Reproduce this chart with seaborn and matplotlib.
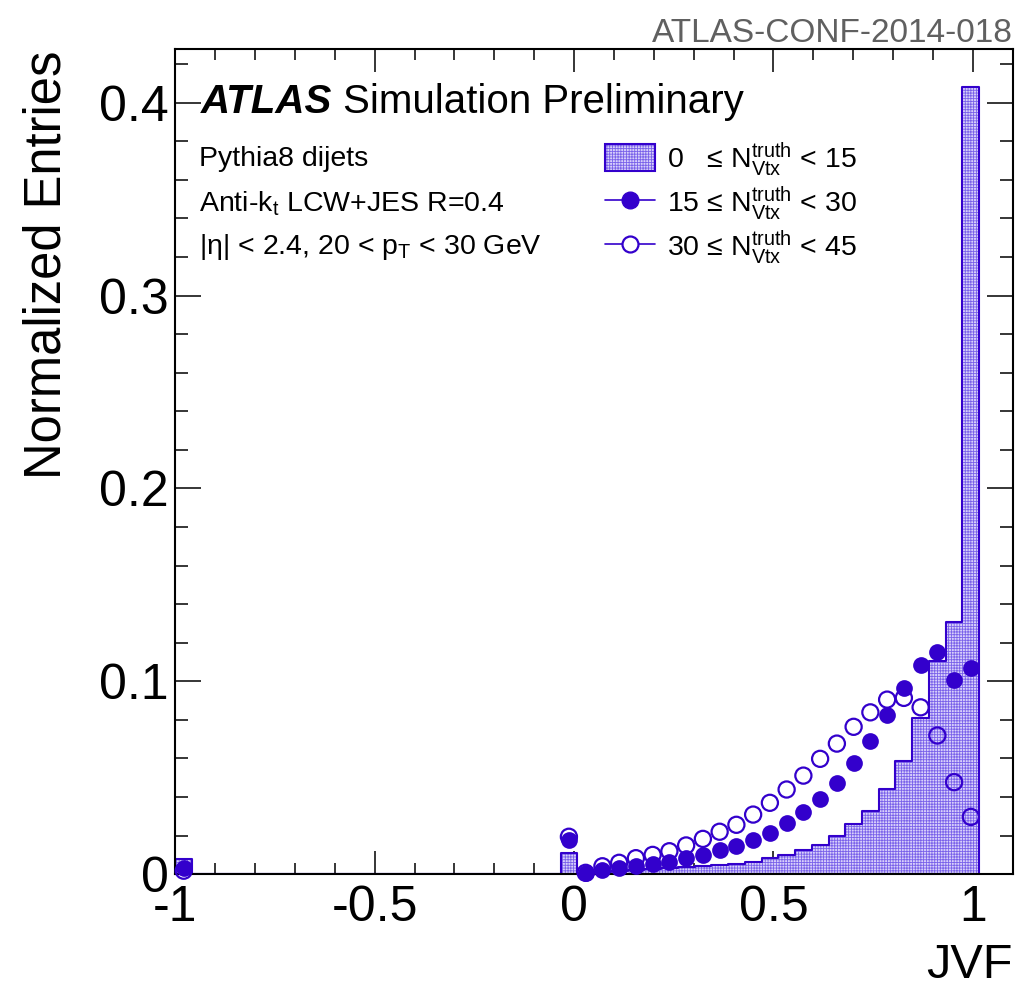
import numpy as np
import pandas as pd
import matplotlib
matplotlib.use("Agg")
import matplotlib.pyplot as plt
from matplotlib.lines import Line2D
from matplotlib.patches import Patch
from matplotlib.legend_handler import HandlerTuple
from matplotlib.ticker import MultipleLocator, FuncFormatter
import seaborn as sns

# ---- JVF binning (48 bins) ----
bin_edges = np.linspace(-1.0, 1.016, 49)
bin_centers = 0.5 * (bin_edges[:-1] + bin_edges[1:])

# ---- normalized entries per bin ----
# 0 <= N_vtx < 15 (histogram)
jvf_npv_0_15 = ([0.008] + [0.0] * 22 +
                [0.011, 0.0005, 0.001, 0.0015, 0.002, 0.0025, 0.003, 0.0036,
                 0.0041, 0.0047, 0.0054, 0.0064, 0.0083, 0.0097, 0.0124, 0.015,
                 0.020, 0.0258, 0.033, 0.0444, 0.0589, 0.081, 0.1107, 0.131, 0.408])
# 15 <= N_vtx < 30 (filled markers), NaN = empty bin
jvf_npv_15_30 = ([0.0033] + [np.nan] * 22 +
                 [0.0176, 0.0005, 0.002, 0.003, 0.0041, 0.0054, 0.0064, 0.0083,
                  0.0098, 0.0123, 0.0145, 0.0176, 0.0212, 0.0263, 0.0321, 0.0391,
                  0.0473, 0.0574, 0.0691, 0.0826, 0.0967, 0.1087, 0.1150, 0.1005, 0.1069])
# 30 <= N_vtx < 45 (open markers)
jvf_npv_30_45 = ([0.0018] + [np.nan] * 22 +
                 [0.0194, 0.0007, 0.0041, 0.0059, 0.0083, 0.0100, 0.0119, 0.0149,
                  0.0183, 0.0220, 0.0256, 0.0309, 0.0370, 0.0439, 0.0511, 0.0598,
                  0.0677, 0.0764, 0.0839, 0.0905, 0.0914, 0.0865, 0.0719, 0.0477, 0.0297])

legend_labels = ["0   \u2264 $\\mathregular{N^{truth}_{Vtx}}$ < 15",
                 "15 \u2264 $\\mathregular{N^{truth}_{Vtx}}$ < 30",
                 "30 \u2264 $\\mathregular{N^{truth}_{Vtx}}$ < 45"]

BLUE = "#3300cc"
FILL_FACE = "#d9d1fb"
FILL_HATCH = "#7a62ea"

df = pd.DataFrame({"jvf": bin_centers,
                   "low": jvf_npv_0_15,
                   "mid": jvf_npv_15_30,
                   "high": jvf_npv_30_45})

sns.set_style("ticks")
plt.rcParams["font.family"] = ["Liberation Sans", "DejaVu Sans"]
plt.rcParams["mathtext.fontset"] = "custom"
plt.rcParams["mathtext.rm"] = "Liberation Sans"
plt.rcParams["mathtext.it"] = "Liberation Sans:italic"
plt.rcParams["mathtext.bf"] = "Liberation Sans:bold"
plt.rcParams["axes.unicode_minus"] = False
plt.rcParams["hatch.linewidth"] = 0.6
for key in ["text.color", "axes.labelcolor", "xtick.color", "ytick.color",
            "xtick.labelcolor", "ytick.labelcolor", "axes.edgecolor"]:
    plt.rcParams[key] = "black"

fig = plt.figure(figsize=(10.17, 9.89), dpi=100)
ax = fig.add_axes([0.1724, 0.1161, 0.8234, 0.8347])

edges_list = [float(e) for e in bin_edges]

# filled, hatched histogram body
n0 = len(ax.collections)
sns.histplot(data=df, x="jvf", weights="low", bins=edges_list, element="step",
             fill=True, ax=ax)
for coll in ax.collections[n0:]:
    coll.set_alpha(None)
    coll.set_facecolor(FILL_FACE)
    coll.set_edgecolor(FILL_HATCH)
    coll.set_linewidth(0)
    coll.set_hatch("++++++")
# histogram outline
n1 = len(ax.collections)
sns.histplot(data=df, x="jvf", weights="low", bins=edges_list, element="step",
             fill=True, ax=ax)
for coll in ax.collections[n1:]:
    coll.set_alpha(None)
    coll.set_facecolor("none")
    coll.set_edgecolor(BLUE)
    coll.set_linewidth(1.5)

# markers
sns.scatterplot(data=df.dropna(subset=["high"]), x="jvf", y="high", s=135, marker="o",
                facecolors="none", edgecolor=BLUE, linewidth=1.6, clip_on=False,
                zorder=4, ax=ax)
sns.scatterplot(data=df.dropna(subset=["mid"]), x="jvf", y="mid", s=145, marker="o",
                color=BLUE, edgecolor=BLUE, linewidth=0, clip_on=False, zorder=5, ax=ax)

ax.set_xlim(-1.0, 1.1)
ax.set_ylim(0, 0.428)

ax.xaxis.set_major_locator(MultipleLocator(0.5))
ax.xaxis.set_minor_locator(MultipleLocator(0.1))
ax.yaxis.set_major_locator(MultipleLocator(0.1))
ax.yaxis.set_minor_locator(MultipleLocator(0.02))
ax.xaxis.set_major_formatter(FuncFormatter(lambda v, p: "0" if abs(v) < 1e-9 else f"{v:g}"))
ax.yaxis.set_major_formatter(FuncFormatter(lambda v, p: "0" if abs(v) < 1e-9 else f"{v:.1f}"))
ax.tick_params(which="both", direction="in", top=True, right=True, width=1.1,
               colors="black")
ax.tick_params(axis="y", which="major", length=18.5, pad=5, labelsize=36)
ax.tick_params(axis="y", which="minor", length=9.5)
ax.tick_params(axis="x", which="major", length=16.5, pad=8, labelsize=36)
ax.tick_params(axis="x", which="minor", length=8)
for sp in ax.spines.values():
    sp.set_linewidth(1.5)
    sp.set_color("black")

ax.set_ylabel("Normalized Entries", fontsize=36.5, loc="top", color="black")
ax.yaxis.set_label_coords(-0.124, 0.998)
ax.set_xlabel("JVF", fontsize=35, loc="right", color="black")
ax.xaxis.set_label_coords(1.0, -0.083)

# annotations
ax.text(0.0303, 0.9225, "ATLAS", transform=ax.transAxes, fontsize=29,
        fontweight="bold", fontstyle="italic", va="baseline", ha="left", color="black")
ax.text(0.2003, 0.9225, "Simulation Preliminary", transform=ax.transAxes,
        fontsize=29, va="baseline", ha="left", color="black")
info = ["Pythia8 dijets", "Anti-k$_{\\mathregular{t}}$ LCW+JES R=0.4",
        "|\u03b7| < 2.4, 20 < p$_{\\mathregular{T}}$ < 30 GeV"]
for txt, yy in zip(info, [0.8575, 0.8030, 0.7510]):
    ax.text(0.0287, yy, txt, transform=ax.transAxes, fontsize=20.5,
            va="baseline", ha="left", color="black")

fig.text(0.9955, 1 - 42 / 989, "ATLAS-CONF-2014-018", fontsize=24,
         color="#606060", ha="right", va="baseline")

# legend
h_hist = (Patch(facecolor=FILL_FACE, edgecolor=FILL_HATCH, hatch="++++++", lw=0),
          Patch(facecolor="none", edgecolor=BLUE, lw=1.5))
h_mid = Line2D([], [], color=BLUE, lw=1.2, marker="o", markersize=12,
               markerfacecolor=BLUE, markeredgecolor=BLUE)
h_hi = Line2D([], [], color=BLUE, lw=1.2, marker="o", markersize=11.5,
              markerfacecolor="white", markeredgecolor=BLUE, markeredgewidth=1.6)
leg = ax.legend([h_hist, h_mid, h_hi], legend_labels,
                handler_map={tuple: HandlerTuple(ndivide=1, pad=0)},
                loc="upper left", bbox_to_anchor=(0.5131, 0.8895), frameon=False,
                fontsize=20.5, borderpad=0, borderaxespad=0, handlelength=1.75,
                handleheight=1.1, handletextpad=0.42, labelspacing=0.22)
for t in leg.get_texts():
    t.set_color("black")

fig.savefig("out.png", dpi=100)
